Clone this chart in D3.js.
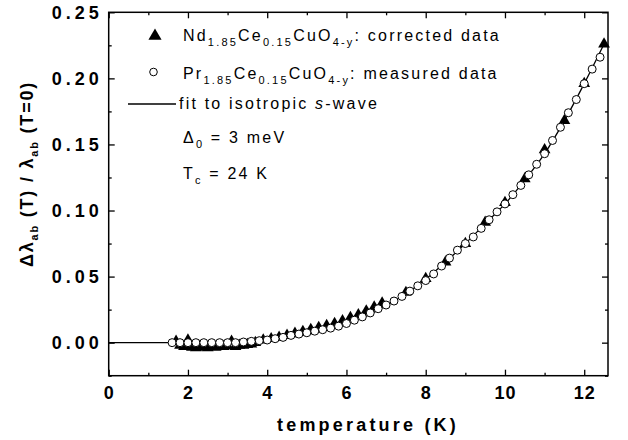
<!DOCTYPE html>
<html><head><meta charset="utf-8">
<script src="https://cdn.jsdelivr.net/npm/d3@7"></script>
<style>body{margin:0;background:#fff} svg{display:block} text{font-family:"Liberation Sans",Arial,sans-serif}</style>
</head><body><svg id="c" width="628" height="440"></svg>
<script>
// Pr1.85Ce0.15CuO4-y measured (open circles)
const prT = [1.6,1.8,2.0,2.2,2.4,2.6,2.8,3.0,3.2,3.4,3.6,3.8,4.0,4.2,4.4,4.6,4.8,5.0,5.2,5.4,5.6,5.8,6.0,6.2,6.4,6.6,6.8,7.0,7.2,7.4,7.6,7.8,8.0,8.2,8.4,8.6,8.8,9.0,9.2,9.4,9.6,9.8,10.0,10.2,10.4,10.6,10.8,11.0,11.2,11.4,11.6,11.8,12.0,12.2,12.4];
const prV = [0.000,0.000,0.000,0.000,0.000,0.000,0.000,0.000,0.000,0.0005,0.001,0.0015,0.002,0.003,0.004,0.0055,0.0065,0.0075,0.0087,0.0098,0.011,0.0125,0.0145,0.017,0.0195,0.0225,0.0257,0.0285,0.0315,0.035,0.039,0.043,0.047,0.052,0.058,0.064,0.070,0.075,0.080,0.0865,0.093,0.099,0.105,0.112,0.119,0.127,0.135,0.143,0.153,0.163,0.174,0.184,0.196,0.207,0.216];
// Nd1.85Ce0.15CuO4-y corrected (filled triangles)
const ndT = [1.7,1.8,1.9,2.0,2.1,2.2,2.3,2.4,2.5,2.6,2.7,2.8,2.9,3.0,3.1,3.2,3.3,3.4,3.5,3.6,3.7,3.9,4.1,4.3,4.5,4.7,4.9,5.1,5.3,5.5,5.7,5.9,6.1,6.3,6.5,6.7,6.9,7.5,8.0,8.5,9.0,9.5,10.0,10.5,11.0,11.5,12.0,12.5];
const ndV = [0.001,-0.002,-0.003,0.002,-0.0035,-0.004,-0.003,-0.0035,-0.004,-0.003,-0.0035,-0.003,-0.003,-0.0025,0.001,-0.003,-0.002,-0.002,-0.0015,-0.001,0.0,0.002,0.003,0.004,0.0055,0.007,0.0085,0.010,0.0115,0.013,0.0145,0.0165,0.019,0.021,0.024,0.027,0.030,0.038,0.0485,0.061,0.075,0.091,0.106,0.124,0.146,0.168,0.196,0.226];
// fit to isotropic s-wave
const fitT = [0,1,2,2.5,3,3.5,4,4.5,5,5.5,6,6.5,7,7.5,8,8.5,9,9.5,10,10.5,11,11.5,12,12.5];
const fitV = [0,0,0,0.0001,0.0003,0.0008,0.0018,0.0035,0.006,0.0095,0.014,0.020,0.028,0.037,0.048,0.061,0.075,0.090,0.105,0.123,0.143,0.168,0.196,0.226];

const xTicks = [0,2,4,6,8,10,12];
const xMinor = [1,3,5,7,9,11];
const yTicks = [0,0.05,0.10,0.15,0.20,0.25];
const yMinor = [-0.025,0.025,0.075,0.125,0.175,0.225];

const svg = d3.select('#c');
const L=108.7, R=608, T=12.3, B=375.7;
const x = d3.scaleLinear().domain([0,12.6]).range([L,R]);
const y = d3.scaleLinear().domain([-0.025,0.25]).range([B,T]);

function styleAxis(g){ g.select('.domain').remove(); g.selectAll('line').attr('stroke','#000').attr('stroke-width',1.3); }
const fmtY = d3.format('.2f');
svg.append('g').attr('transform',`translate(0,${B})`)
  .call(d3.axisBottom(x).tickValues(xTicks).tickSize(-6).tickPadding(11).tickFormat(d3.format('d')))
  .call(styleAxis)
  .selectAll('text').attr('font-size',18).attr('font-weight','bold').attr('fill','#000').attr('letter-spacing','1px').attr('font-family','"Liberation Sans",Arial,sans-serif');
svg.append('g').attr('transform',`translate(0,${B})`).call(d3.axisBottom(x).tickValues(xMinor).tickSize(-3).tickFormat('')).call(styleAxis);
svg.append('g').attr('transform',`translate(0,${T})`).call(d3.axisTop(x).tickValues(xTicks).tickSize(-6).tickFormat('')).call(styleAxis);
svg.append('g').attr('transform',`translate(0,${T})`).call(d3.axisTop(x).tickValues(xMinor).tickSize(-3).tickFormat('')).call(styleAxis);
svg.append('g').attr('transform',`translate(${L},0)`)
  .call(d3.axisLeft(y).tickValues(yTicks).tickSize(-6).tickPadding(6).tickFormat(fmtY))
  .call(styleAxis)
  .selectAll('text').attr('font-size',18).attr('font-weight','bold').attr('fill','#000').attr('letter-spacing','4px').attr('font-family','"Liberation Sans",Arial,sans-serif');
svg.append('g').attr('transform',`translate(${L},0)`).call(d3.axisLeft(y).tickValues(yMinor).tickSize(-3).tickFormat('')).call(styleAxis);
svg.append('g').attr('transform',`translate(${R},0)`).call(d3.axisRight(y).tickValues(yTicks).tickSize(-6).tickFormat('')).call(styleAxis);
svg.append('g').attr('transform',`translate(${R},0)`).call(d3.axisRight(y).tickValues(yMinor).tickSize(-3).tickFormat('')).call(styleAxis);

svg.append('rect').attr('x',L).attr('y',T).attr('width',R-L).attr('height',B-T)
  .attr('fill','none').attr('stroke','#000').attr('stroke-width',1.5);

// fit line
const line = d3.line().x((d,i)=>x(fitT[i])).y((d,i)=>y(fitV[i])).curve(d3.curveMonotoneX);
svg.append('path').attr('d',line(fitV)).attr('fill','none').attr('stroke','#000').attr('stroke-width',1.3);

// triangles
const tri = d3.symbol().type(d3.symbolTriangle).size(60);
svg.append('g').selectAll('path').data(ndV).join('path')
  .attr('d',tri).attr('transform',(d,i)=>`translate(${x(ndT[i])},${y(d)})`).attr('fill','#000');
// circles
svg.append('g').selectAll('circle').data(prV).join('circle')
  .attr('cx',(d,i)=>x(prT[i])).attr('cy',d=>y(d)).attr('r',4)
  .attr('fill','#fff').attr('stroke','#000').attr('stroke-width',1);

// legend
const lg = svg.append('g').attr('font-size',16).attr('fill','#000');
lg.append('path').attr('d',d3.symbol().type(d3.symbolTriangle).size(75)()).attr('transform','translate(155,36)').attr('fill','#000');
lg.append('circle').attr('cx',153.5).attr('cy',72).attr('r',3.8).attr('fill','#fff').attr('stroke','#000').attr('stroke-width',1);
lg.append('line').attr('x1',128).attr('x2',176).attr('y1',104).attr('y2',104).attr('stroke','#000').attr('stroke-width',1.3);

function chem(t, parts){
  parts.forEach(p=>{
    if(p[1]) t.append('tspan').attr('font-size',11).attr('dy',5).text(p[0]);
    else t.append('tspan').attr('dy',p[2]||0).text(p[0]);
  });
}
const ls='2.2px';
let t1 = lg.append('text').attr('x',183).attr('y',41).attr('letter-spacing',ls);
chem(t1, [['Nd'],['1.85',1],['Ce',0,-5],['0.15',1],['CuO',0,-5],['4-y',1],[': corrected data',0,-5]]);
let t2 = lg.append('text').attr('x',183).attr('y',79).attr('letter-spacing',ls);
chem(t2, [['Pr'],['1.85',1],['Ce',0,-5],['0.15',1],['CuO',0,-5],['4-y',1],[': measured data',0,-5]]);
let t3 = lg.append('text').attr('x',179).attr('y',109).attr('letter-spacing',ls);
t3.append('tspan').text('fit to isotropic ');
t3.append('tspan').attr('font-style','italic').text('s');
t3.append('tspan').text('-wave');
let t4 = lg.append('text').attr('x',183).attr('y',143).attr('letter-spacing',ls);
chem(t4, [['Δ'],['0',1],[' = 3 meV',0,-5]]);
let t5 = lg.append('text').attr('x',183).attr('y',179).attr('letter-spacing',ls);
chem(t5, [['T'],['c',1],[' = 24 K',0,-5]]);

// axis titles
svg.append('text').attr('x',368).attr('y',431).attr('text-anchor','middle')
  .attr('font-size',18).attr('font-weight','bold').attr('letter-spacing','3.2px').text('temperature (K)');
const yt = svg.append('text').attr('transform','translate(33,174) rotate(-90)').attr('text-anchor','middle')
  .attr('font-size',18).attr('font-weight','bold').attr('letter-spacing','1.8px');
yt.append('tspan').text('Δλ');
yt.append('tspan').attr('font-size',11).attr('dy',5).text('ab');
yt.append('tspan').attr('dy',-5).text(' (T) / λ');
yt.append('tspan').attr('font-size',11).attr('dy',5).text('ab');
yt.append('tspan').attr('dy',-5).text(' (T=0)');
</script></body></html>
